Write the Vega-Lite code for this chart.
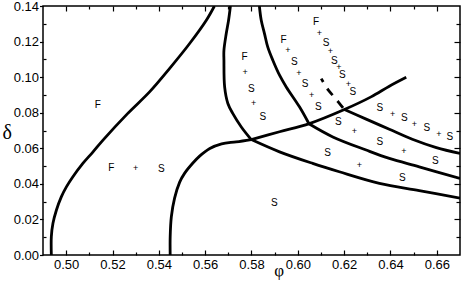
{
  "$schema": "https://vega.github.io/schema/vega-lite/v6.json",
  "width": 417,
  "height": 249,
  "autosize": {"type": "none"},
  "padding": {"left": 43, "top": 6, "right": 3, "bottom": 28},
  "config": {
    "view": {"stroke": "#000", "strokeWidth": 1.5},
    "axis": {"domain": false, "grid": false, "labelFont": "Liberation Sans", "labelFontSize": 13, "labelColor": "#000", "titleColor": "#000", "labelFlush": false, "labelOverlap": false, "tickColor": "#000", "tickWidth": 1.2}
  },
  "datasets": {
    "curves": [
      {"curve": "A", "i": 0, "phi": 0.4936, "delta": 0},
      {"curve": "A", "i": 1, "phi": 0.4936, "delta": 0.0103},
      {"curve": "A", "i": 2, "phi": 0.4943, "delta": 0.0178},
      {"curve": "A", "i": 3, "phi": 0.4958, "delta": 0.0253},
      {"curve": "A", "i": 4, "phi": 0.4979, "delta": 0.0327},
      {"curve": "A", "i": 5, "phi": 0.5001, "delta": 0.0383},
      {"curve": "A", "i": 6, "phi": 0.5029, "delta": 0.044},
      {"curve": "A", "i": 7, "phi": 0.5072, "delta": 0.0515},
      {"curve": "A", "i": 8, "phi": 0.5116, "delta": 0.058},
      {"curve": "A", "i": 9, "phi": 0.5159, "delta": 0.0646},
      {"curve": "A", "i": 10, "phi": 0.5265, "delta": 0.0795},
      {"curve": "A", "i": 11, "phi": 0.536, "delta": 0.0917},
      {"curve": "A", "i": 12, "phi": 0.5446, "delta": 0.1048},
      {"curve": "A", "i": 13, "phi": 0.5533, "delta": 0.1189},
      {"curve": "A", "i": 14, "phi": 0.5605, "delta": 0.132},
      {"curve": "A", "i": 15, "phi": 0.564, "delta": 0.14},
      {"curve": "B", "i": 0, "phi": 0.5449, "delta": 0},
      {"curve": "B", "i": 1, "phi": 0.5449, "delta": 0.0103},
      {"curve": "B", "i": 2, "phi": 0.5454, "delta": 0.0215},
      {"curve": "B", "i": 3, "phi": 0.5468, "delta": 0.032},
      {"curve": "B", "i": 4, "phi": 0.549, "delta": 0.041},
      {"curve": "B", "i": 5, "phi": 0.5511, "delta": 0.0459},
      {"curve": "B", "i": 6, "phi": 0.5547, "delta": 0.0517},
      {"curve": "B", "i": 7, "phi": 0.5576, "delta": 0.0556},
      {"curve": "B", "i": 8, "phi": 0.562, "delta": 0.0599},
      {"curve": "B", "i": 9, "phi": 0.5671, "delta": 0.0625},
      {"curve": "B", "i": 10, "phi": 0.5734, "delta": 0.0636},
      {"curve": "B", "i": 11, "phi": 0.5799, "delta": 0.0649},
      {"curve": "C", "i": 0, "phi": 0.5709, "delta": 0.14},
      {"curve": "C", "i": 1, "phi": 0.5701, "delta": 0.132},
      {"curve": "C", "i": 2, "phi": 0.5691, "delta": 0.1245},
      {"curve": "C", "i": 3, "phi": 0.5681, "delta": 0.1151},
      {"curve": "C", "i": 4, "phi": 0.5681, "delta": 0.1095},
      {"curve": "C", "i": 5, "phi": 0.5684, "delta": 0.0945},
      {"curve": "C", "i": 6, "phi": 0.5698, "delta": 0.0852},
      {"curve": "C", "i": 7, "phi": 0.5719, "delta": 0.0796},
      {"curve": "C", "i": 8, "phi": 0.5756, "delta": 0.072},
      {"curve": "C", "i": 9, "phi": 0.5799, "delta": 0.0649},
      {"curve": "D", "i": 0, "phi": 0.5799, "delta": 0.0649},
      {"curve": "D", "i": 1, "phi": 0.5921, "delta": 0.0693},
      {"curve": "D", "i": 2, "phi": 0.605, "delta": 0.0739},
      {"curve": "D", "i": 3, "phi": 0.6201, "delta": 0.0818},
      {"curve": "D", "i": 4, "phi": 0.6316, "delta": 0.0889},
      {"curve": "D", "i": 5, "phi": 0.6395, "delta": 0.0949},
      {"curve": "D", "i": 6, "phi": 0.6468, "delta": 0.0999},
      {"curve": "E", "i": 0, "phi": 0.5799, "delta": 0.0649},
      {"curve": "E", "i": 1, "phi": 0.5921, "delta": 0.058},
      {"curve": "E", "i": 2, "phi": 0.6064, "delta": 0.0515},
      {"curve": "E", "i": 3, "phi": 0.6179, "delta": 0.0468},
      {"curve": "E", "i": 4, "phi": 0.6352, "delta": 0.0403},
      {"curve": "E", "i": 5, "phi": 0.6524, "delta": 0.0362},
      {"curve": "E", "i": 6, "phi": 0.67, "delta": 0.032},
      {"curve": "F1", "i": 0, "phi": 0.5834, "delta": 0.14},
      {"curve": "F1", "i": 1, "phi": 0.5842, "delta": 0.132},
      {"curve": "F1", "i": 2, "phi": 0.5856, "delta": 0.1245},
      {"curve": "F1", "i": 3, "phi": 0.587, "delta": 0.117},
      {"curve": "F1", "i": 4, "phi": 0.5892, "delta": 0.1095},
      {"curve": "F1", "i": 5, "phi": 0.5921, "delta": 0.1011},
      {"curve": "F1", "i": 6, "phi": 0.595, "delta": 0.0945},
      {"curve": "F1", "i": 7, "phi": 0.6007, "delta": 0.0833},
      {"curve": "F1", "i": 8, "phi": 0.6048, "delta": 0.0738},
      {"curve": "F2", "i": 0, "phi": 0.6048, "delta": 0.0738},
      {"curve": "F2", "i": 1, "phi": 0.6151, "delta": 0.0664},
      {"curve": "F2", "i": 2, "phi": 0.6295, "delta": 0.059},
      {"curve": "F2", "i": 3, "phi": 0.6395, "delta": 0.0543},
      {"curve": "F2", "i": 4, "phi": 0.6524, "delta": 0.0496},
      {"curve": "F2", "i": 5, "phi": 0.67, "delta": 0.043},
      {"curve": "G", "i": 0, "phi": 0.6201, "delta": 0.0818},
      {"curve": "G", "i": 1, "phi": 0.6295, "delta": 0.0764},
      {"curve": "G", "i": 2, "phi": 0.6395, "delta": 0.0707},
      {"curve": "G", "i": 3, "phi": 0.6494, "delta": 0.0651},
      {"curve": "G", "i": 4, "phi": 0.6598, "delta": 0.0604},
      {"curve": "G", "i": 5, "phi": 0.67, "delta": 0.0571}
    ],
    "dashed": [
      {"curve": "H", "i": 0, "phi": 0.6101, "delta": 0.0992},
      {"curve": "H", "i": 1, "phi": 0.613, "delta": 0.093},
      {"curve": "H", "i": 2, "phi": 0.6154, "delta": 0.0893},
      {"curve": "H", "i": 3, "phi": 0.6201, "delta": 0.0818}
    ],
    "letters": [
      {"label": "F", "phi": 0.5137, "delta": 0.0846},
      {"label": "F", "phi": 0.5195, "delta": 0.049},
      {"label": "S", "phi": 0.5411, "delta": 0.0483},
      {"label": "S", "phi": 0.5899, "delta": 0.0294},
      {"label": "F", "phi": 0.577, "delta": 0.1113},
      {"label": "S", "phi": 0.5799, "delta": 0.0936},
      {"label": "S", "phi": 0.5849, "delta": 0.0775},
      {"label": "F", "phi": 0.5938, "delta": 0.1207},
      {"label": "S", "phi": 0.5985, "delta": 0.1085},
      {"label": "S", "phi": 0.6031, "delta": 0.0959},
      {"label": "S", "phi": 0.6088, "delta": 0.0833},
      {"label": "F", "phi": 0.6079, "delta": 0.131},
      {"label": "S", "phi": 0.6122, "delta": 0.1192},
      {"label": "S", "phi": 0.6158, "delta": 0.1089},
      {"label": "S", "phi": 0.6192, "delta": 0.1011},
      {"label": "S", "phi": 0.6237, "delta": 0.0915},
      {"label": "S", "phi": 0.6354, "delta": 0.0824},
      {"label": "S", "phi": 0.646, "delta": 0.0769},
      {"label": "S", "phi": 0.6557, "delta": 0.0713},
      {"label": "S", "phi": 0.6656, "delta": 0.0661},
      {"label": "S", "phi": 0.6175, "delta": 0.0748},
      {"label": "S", "phi": 0.6354, "delta": 0.0633},
      {"label": "S", "phi": 0.6593, "delta": 0.0528},
      {"label": "S", "phi": 0.6128, "delta": 0.0574},
      {"label": "S", "phi": 0.6451, "delta": 0.0431}
    ],
    "pluses": [
      {"label": "+", "phi": 0.53, "delta": 0.049},
      {"label": "+", "phi": 0.5773, "delta": 0.1029},
      {"label": "+", "phi": 0.5809, "delta": 0.0852},
      {"label": "+", "phi": 0.5957, "delta": 0.1151},
      {"label": "+", "phi": 0.6004, "delta": 0.1024},
      {"label": "+", "phi": 0.6059, "delta": 0.0901},
      {"label": "+", "phi": 0.6093, "delta": 0.125},
      {"label": "+", "phi": 0.6141, "delta": 0.1145},
      {"label": "+", "phi": 0.6177, "delta": 0.1057},
      {"label": "+", "phi": 0.6218, "delta": 0.0959},
      {"label": "+", "phi": 0.6409, "delta": 0.0791},
      {"label": "+", "phi": 0.6503, "delta": 0.0739},
      {"label": "+", "phi": 0.6609, "delta": 0.0683},
      {"label": "+", "phi": 0.6244, "delta": 0.0698},
      {"label": "+", "phi": 0.6458, "delta": 0.0586},
      {"label": "+", "phi": 0.6266, "delta": 0.0505}
    ]
  },
  "layer": [
    {
      "data": {"name": "curves"},
      "mark": {"type": "line", "stroke": "#000", "strokeWidth": 2.8, "interpolate": "catmull-rom", "clip": true},
      "encoding": {
        "x": {"field": "phi", "type": "quantitative", "scale": {"domain": [0.49, 0.67], "nice": false, "zero": false},
          "axis": {"orient": "bottom", "values": [0.5, 0.52, 0.54, 0.56, 0.58, 0.6, 0.62, 0.64, 0.66], "tickSize": 5, "offset": -5, "labelPadding": 3, "format": ".2f",
            "title": "φ", "titleFont": "Liberation Serif", "titleFontSize": 17, "titleFontWeight": "normal", "titleX": 235.7, "titleY": 25, "titleBaseline": "alphabetic", "titleAlign": "center"}},
        "y": {"field": "delta", "type": "quantitative", "scale": {"domain": [0, 0.14], "nice": false, "zero": false},
          "axis": {"orient": "left", "values": [0, 0.02, 0.04, 0.06, 0.08, 0.1, 0.12, 0.14], "tickSize": 3.5, "labelPadding": 1, "format": ".2f",
            "title": "δ", "titleAngle": 0, "titleFont": "Liberation Serif", "titleFontSize": 20, "titleFontWeight": "normal", "titleX": -36.3, "titleY": 132, "titleBaseline": "alphabetic", "titleAlign": "center"}},
        "detail": {"field": "curve"},
        "order": {"field": "i"}
      }
    },
    {
      "data": {"name": "dashed"},
      "mark": {"type": "line", "stroke": "#000", "strokeWidth": 2.8, "interpolate": "catmull-rom", "strokeDash": [8.7, 7.5], "strokeDashOffset": 4.6},
      "encoding": {
        "x": {"field": "phi", "type": "quantitative", "scale": {"domain": [0.49, 0.67], "nice": false, "zero": false},
          "axis": {"orient": "bottom", "values": [0.51, 0.53, 0.55, 0.57, 0.59, 0.61, 0.63, 0.65], "tickSize": 3, "offset": -3, "labels": false, "title": null}},
        "y": {"field": "delta", "type": "quantitative", "scale": {"domain": [0, 0.14], "nice": false, "zero": false},
          "axis": {"orient": "left", "values": [0.01, 0.03, 0.05, 0.07, 0.09, 0.11, 0.13], "tickSize": 3, "offset": -3, "labels": false, "title": null}},
        "order": {"field": "i"}
      }
    },
    {
      "data": {"name": "letters"},
      "mark": {"type": "text", "font": "Liberation Sans", "fontSize": 10, "fill": "#000", "align": "center", "baseline": "middle"},
      "encoding": {
        "x": {"field": "phi", "type": "quantitative", "scale": {"domain": [0.49, 0.67], "nice": false, "zero": false},
          "axis": {"orient": "top", "values": [0.5, 0.52, 0.54, 0.56, 0.58, 0.6, 0.62, 0.64, 0.66], "tickSize": 5, "offset": -5, "labels": false, "title": null}},
        "y": {"field": "delta", "type": "quantitative", "scale": {"domain": [0, 0.14], "nice": false, "zero": false},
          "axis": {"orient": "right", "values": [0.02, 0.04, 0.06, 0.08, 0.1, 0.12], "tickSize": 6, "offset": -6, "labels": false, "title": null}},
        "text": {"field": "label"}
      }
    },
    {
      "data": {"name": "pluses"},
      "mark": {"type": "text", "font": "Liberation Sans", "fontSize": 9, "fill": "#000", "align": "center", "baseline": "middle"},
      "encoding": {
        "x": {"field": "phi", "type": "quantitative", "scale": {"domain": [0.49, 0.67], "nice": false, "zero": false},
          "axis": {"orient": "top", "values": [0.51, 0.53, 0.55, 0.57, 0.59, 0.61, 0.63, 0.65], "tickSize": 3, "offset": -3, "labels": false, "title": null}},
        "y": {"field": "delta", "type": "quantitative", "scale": {"domain": [0, 0.14], "nice": false, "zero": false},
          "axis": {"orient": "right", "values": [0.01, 0.03, 0.05, 0.07, 0.09, 0.11, 0.13], "tickSize": 4, "offset": -4, "labels": false, "title": null}},
        "text": {"field": "label"}
      }
    }
  ],
  "resolve": {"axis": {"x": "independent", "y": "independent"}}
}
